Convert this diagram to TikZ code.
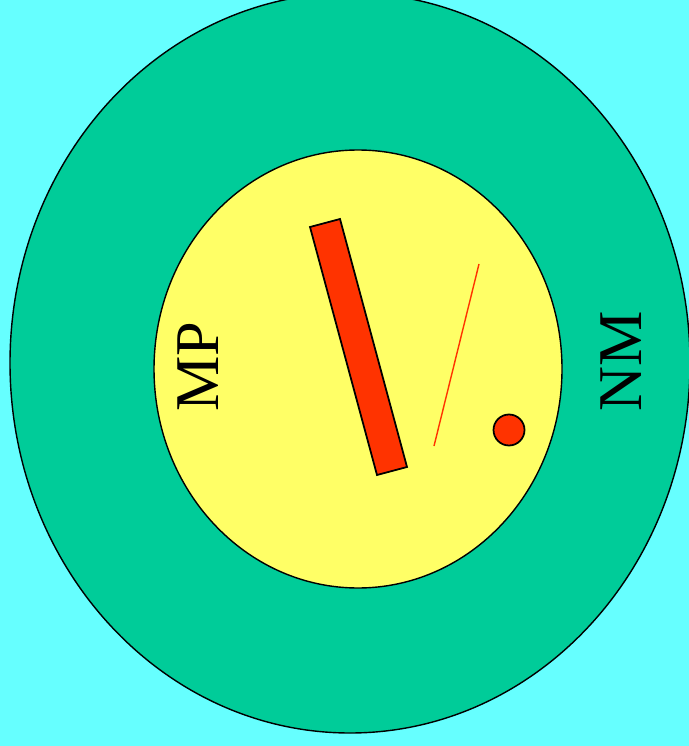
\documentclass[tikz,border=0pt]{standalone}
\usepackage{fontspec}
\setmainfont{Liberation Serif}
\definecolor{sky}{HTML}{66FFFF}
\definecolor{nmgreen}{HTML}{00CC99}
\definecolor{mpyellow}{HTML}{FFFF66}
\definecolor{rodred}{HTML}{FF3300}

\begin{document}
\begin{tikzpicture}[x=0.01cm, y=-0.01cm, every node/.style={font=\fontsize{17.7}{20}\selectfont, rotate=90, inner sep=0pt}]
    \useasboundingbox (0,0) rectangle (689,746);
    \fill[sky] (0,0) rectangle (689,746);
    \clip (0,0) rectangle (689,746);
    % regions
    \filldraw[fill=nmgreen] (350,363) ellipse [x radius=340, y radius=370];
    \filldraw[fill=mpyellow] (358,369) ellipse [x radius=204, y radius=219];
    % rod, trace and particle
    \filldraw[fill=rodred, line width=0.5pt] (310,227) -- (340,219) -- (407,467) -- (377,475) -- cycle;
    \draw[rodred, line width=0.4pt] (479,264) -- (434,446);
    \filldraw[fill=rodred, line width=0.5pt] (509,430) circle [radius=15.5];
    \node (mp) at (198,367) {MP};
    \node (nm) at (621,361) {NM};
\end{tikzpicture}
\end{document}
